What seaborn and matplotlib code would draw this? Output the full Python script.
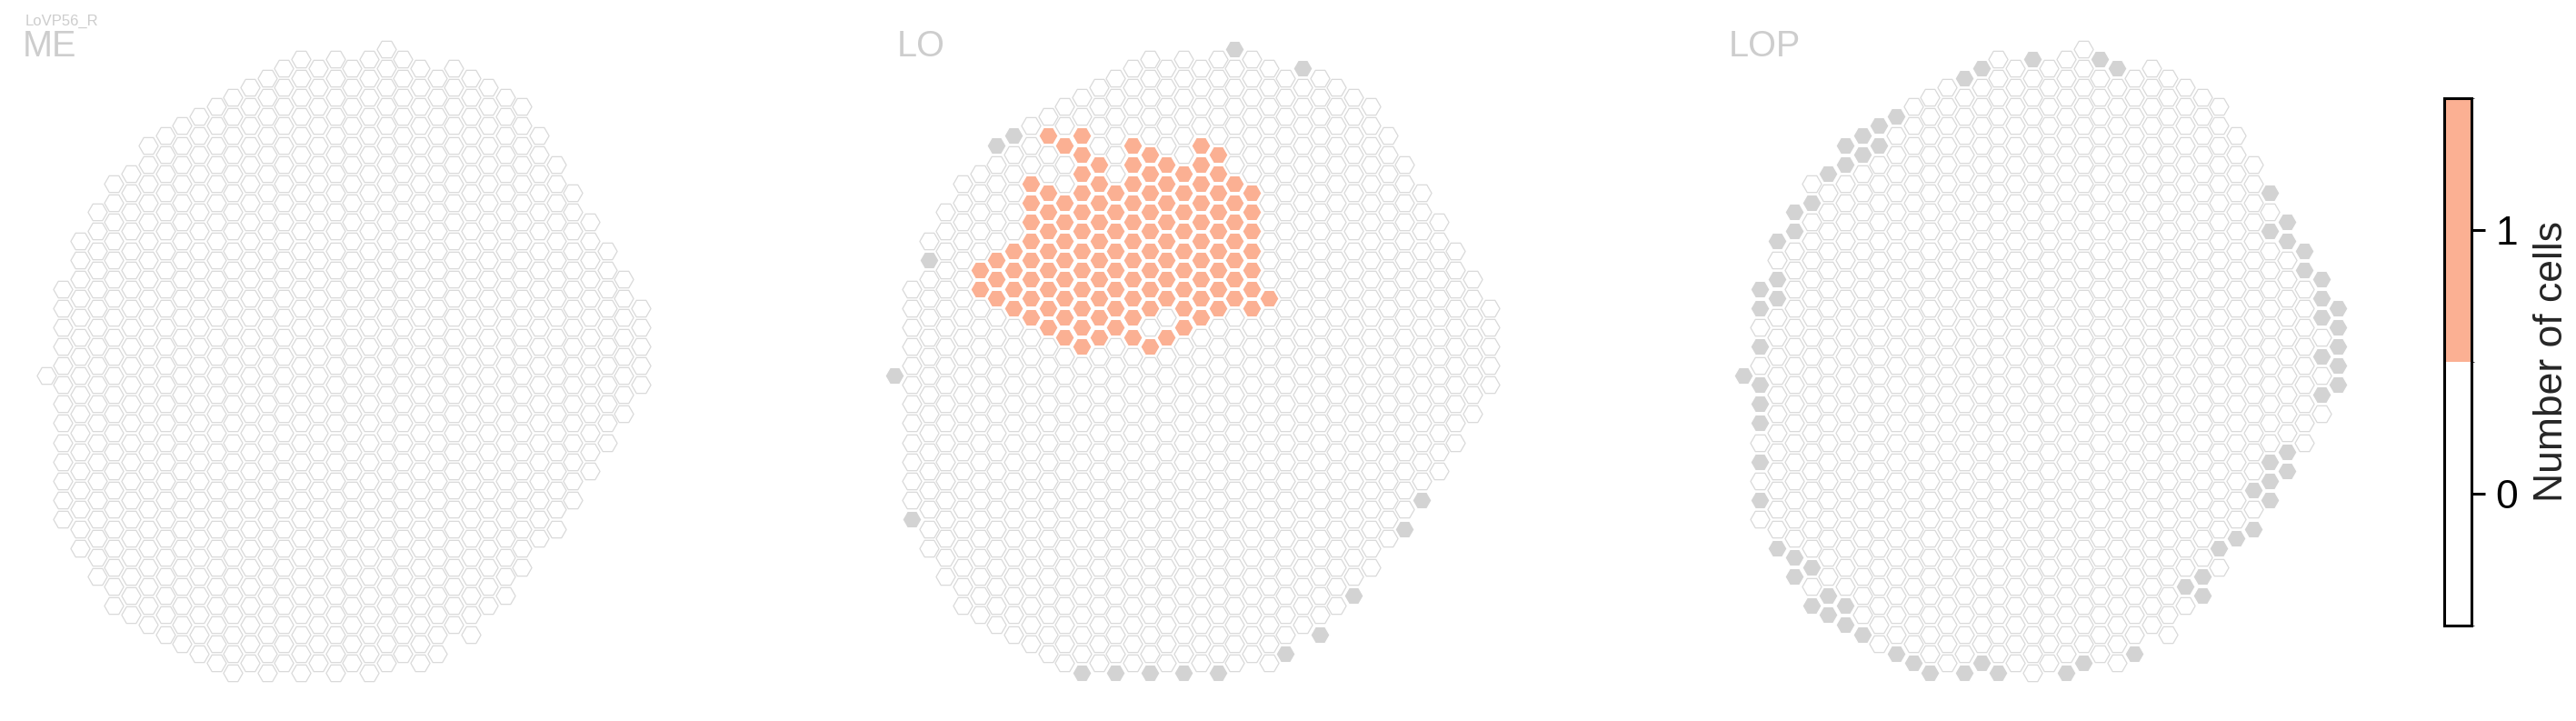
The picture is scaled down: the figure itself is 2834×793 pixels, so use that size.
import numpy as np
import pandas as pd
import matplotlib
matplotlib.use("Agg")
import matplotlib.pyplot as plt
import matplotlib.cm as cm
from matplotlib.colors import ListedColormap, BoundaryNorm
import seaborn as sns

# Column outline shared by ME, LO and LOP (half-row index range per column)
col_id = list(range(36))
col_top = [0, -9, -14, -17, -20, -21, -24, -25, -26, -27, -28, -29, -30, -31, -32, -33, -32, -33,
           -32, -33, -34, -33, -32, -31, -32, -31, -30, -29, -28, -25, -22, -19, -16, -13, -10, -7]
col_bottom = [0, 15, 18, 21, 24, 25, 26, 27, 28, 29, 30, 31, 30, 31, 30, 31, 30, 31,
              30, 31, 30, 29, 30, 29, 26, 27, 24, 23, 20, 17, 16, 13, 10, 7, 4, 1]

# LO: columns with one LoVP56_R cell
lo_one_col = [5, 6, 7, 8, 9, 10, 11, 12, 13, 14, 15, 16, 17, 18, 19, 20, 21, 22]
lo_one_top = [-11, -12, -13, -20, -25, -24, -25, -22, -19, -24, -23, -22, -21, -24, -23, -20, -19, -8]
lo_one_bottom = [-9, -8, -7, -6, -5, -4, -3, -4, -5, -4, -3, -4, -5, -6, -7, -8, -7, -8]
lo_hole_col = [9, 9, 10, 10, 15, 16]
lo_hole_h = [-23, -21, -22, -20, -5, -6]

# columns missing from the neuropil (drawn grey)
lo_gray_col = [0, 1, 2, 6, 7, 11, 13, 15, 17, 19, 20, 23, 24, 25, 27, 30, 31]
lo_gray_h = [0, 15, -12, -24, -25, 31, 31, 31, 31, 31, -34, 29, -32, 27, 23, 16, 13]

lop_gray_col = [0, 1, 1, 1, 1, 1, 1, 1, 1, 2, 2, 2, 2, 3, 3, 3, 3, 4, 4, 4, 5, 5, 5,
                6, 6, 6, 6, 7, 7, 7, 8, 8, 9, 9, 10, 11, 13, 13, 14, 14, 15, 17, 19, 20,
                21, 22, 23, 26, 27, 27, 28, 29, 30, 30, 31, 31, 31, 31, 31, 32, 32, 32, 32,
                33, 33, 34, 34, 34, 34, 34, 35, 35, 35, 35, 35]
lop_gray_h = [0, -9, -7, -3, 1, 3, 5, 9, 13, -14, -10, -8, 18, -17, -15, 19, 21, -18, 20, 24, -21, 23, 25,
              -24, -22, 24, 26, -25, -23, 27, -26, -24, -27, 29, 30, 31, -31, 31, -32, 30, 31, -33, 31, 30,
              -33, -32, 29, 22, 21, 23, 18, 17, 12, 16, -19, -15, 9, 11, 13, -16, -14, 8, 10,
              -13, -11, -10, -8, -6, -2, 2, -7, -5, -3, -1, 1]

panel_names = ["ME", "LO", "LOP"]
cell_type = "LoVP56_R"
cbar_ticks = [0, 1]
cbar_label = "Number of cells"

ORANGE = "#fbb093"
GRAY = "#d3d3d3"
EDGE = "#d9d9d9"
TITLE_GRAY = "#cdcdcd"
W, H = 2834, 793
DX, DY = 18.7, 10.55  # pixels per column / per half-row


def outline():
    rows = [(c, h) for c, t, b in zip(col_id, col_top, col_bottom) for h in range(t, b + 1, 2)]
    return pd.DataFrame(rows, columns=["col", "h"])


def panel_data(name):
    df = outline()
    df["state"] = "empty"
    key = list(zip(df["col"], df["h"]))
    if name == "LO":
        ones = {(c, h) for c, t, b in zip(lo_one_col, lo_one_top, lo_one_bottom)
                for h in range(t, b + 1, 2)}
        ones -= set(zip(lo_hole_col, lo_hole_h))
        df.loc[[k in ones for k in key], "state"] = "one"
        grays = set(zip(lo_gray_col, lo_gray_h))
        df.loc[[k in grays for k in key], "state"] = "gray"
    elif name == "LOP":
        grays = set(zip(lop_gray_col, lop_gray_h))
        df.loc[[k in grays for k in key], "state"] = "gray"
    return df


def px_axes(fig, left, top, width, height):
    return fig.add_axes([left / W, 1 - (top + height) / H, width / W, height / H])


sns.set_style("white")
plt.rcParams["font.family"] = ["Liberation Sans", "DejaVu Sans"]

fig = plt.figure(figsize=(W / 100, H / 100), dpi=100)

styles = [("empty", "white", EDGE), ("gray", GRAY, "white"), ("one", ORANGE, "white")]
title_x = [25, 987, 1902]

for i, name in enumerate(panel_names):
    x0 = 50.7 + 933.5 * i
    ax = px_axes(fig, x0 - 1.5 * DX, 412.7 - 37 * DY, 38 * DX, 71 * DY)
    df = panel_data(name)
    for state, fc, ec in styles:
        sub = df[df["state"] == state]
        if len(sub) == 0:
            continue
        sns.scatterplot(data=sub, x="col", y="h", marker="H", s=232, color=fc,
                        edgecolor=ec, linewidth=0.9, legend=False, ax=ax)
    ax.set_xlim(-1.5, 36.5)
    ax.set_ylim(34, -37)
    ax.axis("off")
    fig.text(title_x[i] / W, 1 - 62 / H, name, fontsize=28.5, color=TITLE_GRAY,
             ha="left", va="baseline")

fig.text(28 / W, 1 - 28 / H, cell_type, fontsize=12, color=TITLE_GRAY, ha="left", va="baseline")

# colour bar
cax = px_axes(fig, 2689, 108, 30, 580)
cmap = ListedColormap(["white", ORANGE])
norm = BoundaryNorm([-0.5, 0.5, 1.5], cmap.N)
cb = fig.colorbar(cm.ScalarMappable(norm=norm, cmap=cmap), cax=cax, ticks=cbar_ticks)
cb.outline.set_linewidth(2.2)
cb.outline.set_edgecolor("black")
cb.ax.tick_params(length=11, width=2.2, labelsize=32, pad=8, colors="black")
cb.set_label(cbar_label, fontsize=32, labelpad=12)

fig.savefig("out.png", dpi=100)
